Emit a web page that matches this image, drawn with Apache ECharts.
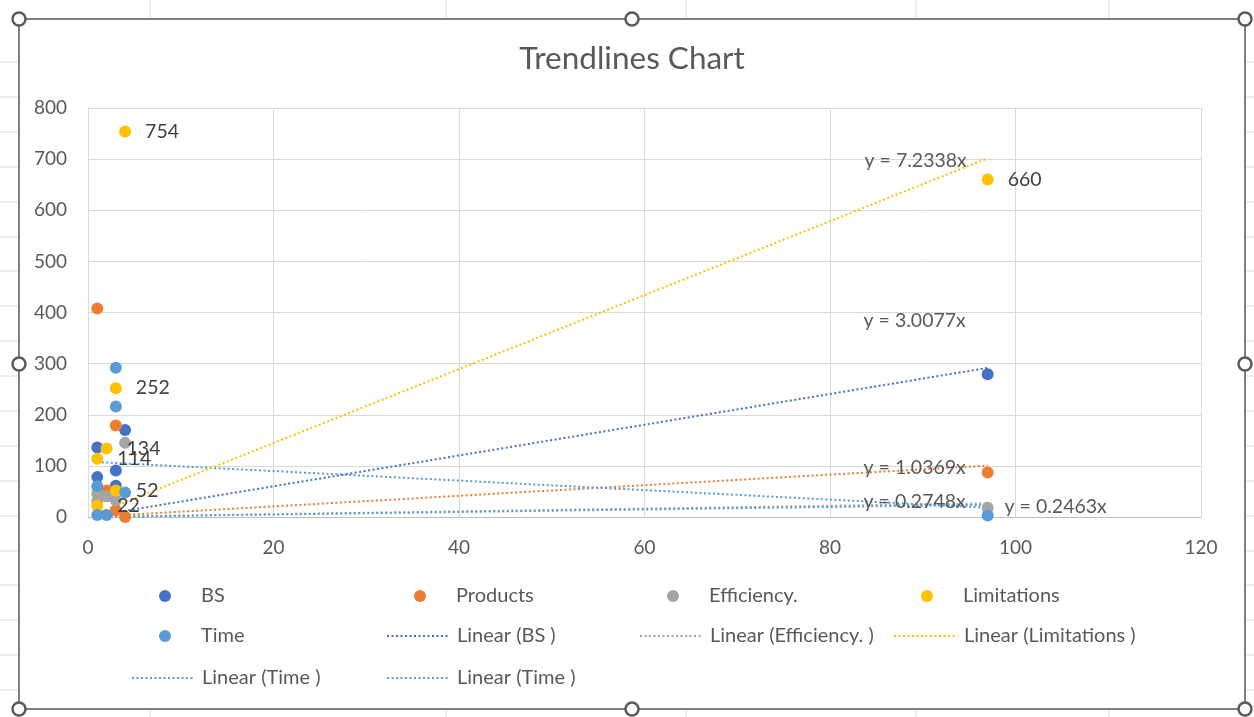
<!DOCTYPE html>
<html>
<head>
<meta charset="utf-8">
<script src="https://cdn.jsdelivr.net/npm/echarts@6/dist/echarts.min.js"></script>
<style>
  html, body { margin: 0; padding: 0; background: #fff; }
  #chart { width: 1254px; height: 717px; }
</style>
</head>
<body>
<div id="chart"></div>
<script>
// Observations: [x, y]
const bsPoints          = [[1, 136], [1, 78], [3, 91], [3, 61], [4, 170], [97, 279]];
const productsPoints    = [[1, 408], [2, 52], [3, 179], [3, 13], [4, 0], [97, 87]];
const efficiencyPoints  = [[1, 46], [1, 31], [2, 40], [3, 33], [4, 145], [97, 18]];
const limitationsPoints = [[1, 114], [1, 22], [2, 134], [3, 252], [3, 52], [4, 754], [97, 660]];
const timePoints        = [[1, 60], [1, 4], [2, 4], [3, 292], [3, 216], [4, 48], [97, 3]];

// Linear fits through the origin, y = k·x (k as printed on the chart)
const slopeBS = 3.0077;
const slopeProducts = 1.0369;
const slopeEfficiency = 0.2748;
const slopeLimitations = 7.2338;
const slopeTime = 0.2463;
// Second Time fit with free intercept: [slope, intercept]
const timeFitFree = [-0.93, 108.4];

// Axis ranges: [min, max, interval]
const xAxisRange = [0, 120, 20];
const yAxisRange = [0, 800, 100];

const FONT = 'Lato, "Open Sans", sans-serif';
const TEXT = '#595959';
const COLORS = { bs: '#4472C4', products: '#ED7D31', efficiency: '#A5A5A5', limitations: '#FFC000', time: '#5B9BD5' };

function xSpan(points) {
  const xs = points.map(p => p[0]);
  return [Math.min.apply(null, xs), Math.max.apply(null, xs)];
}

function trendSeries(name, points, slope, intercept, color, labelOffset) {
  const [x0, x1] = xSpan(points);
  const f = x => slope * x + intercept;
  const s = {
    name: name,
    type: 'line',
    data: [[x0, f(x0)], [x1, f(x1)]],
    symbol: 'none',
    silent: true,
    z: 2,
    lineStyle: { color: color, width: 2, type: [2, 2.5] },
    itemStyle: { color: color }
  };
  if (labelOffset) {
    s.markPoint = {
      symbol: 'circle',
      symbolSize: 0,
      silent: true,
      label: {
        show: true,
        formatter: 'y = ' + slope + 'x',
        offset: labelOffset,
        color: TEXT,
        fontSize: 19.5,
        fontFamily: FONT
      },
      data: [{ coord: [x1, f(x1)] }]
    };
  }
  return s;
}

function scatterSeries(name, points, color, withLabels) {
  return {
    name: name,
    type: 'scatter',
    data: points,
    symbolSize: 12,
    z: 3,
    itemStyle: { color: color, opacity: 1 },
    label: withLabels ? {
      show: true,
      position: 'right',
      distance: 14,
      formatter: p => p.value[1],
      color: '#404040',
      fontSize: 19.5,
      fontFamily: FONT
    } : { show: false }
  };
}

// Legend laid out as a 4-column grid, one component per entry
const legendCols = [131, 386, 639, 893];
const legendRows = [586, 626, 668];
const legendEntries = [
  ['BS', 0, 0, 'marker'], ['Products', 0, 1, 'marker'], ['Efficiency.', 0, 2, 'marker'], ['Limitations', 0, 3, 'marker'],
  ['Time', 1, 0, 'marker'], ['Linear (BS )', 1, 1, 'line'], ['Linear (Efficiency. )', 1, 2, 'line'], ['Linear (Limitations )', 1, 3, 'line'],
  ['Linear (Time )', 2, 0, 'line'], ['Linear (Time )', 2, 1, 'line']
];
const legends = legendEntries.map(([name, r, c, kind]) => {
  const isLine = kind === 'line';
  return {
    data: [name],
    left: legendCols[c] + (isLine ? 0 : 28),
    top: legendRows[r],
    orient: 'horizontal',
    padding: 0,
    itemWidth: 62,
    itemHeight: 12,
    selectedMode: false,
    itemStyle: isLine ? { opacity: 0 } : {},
    textStyle: { color: TEXT, fontSize: 20, fontFamily: FONT, padding: [0, 0, 0, isLine ? 3 : 0] }
  };
});

// Frame with selection handles and faint sheet cell lines around it
const frame = { l: 19, t: 19, r: 1245, b: 709 };
const sheetCols = [150, 446, 686, 916, 1109];
const sheetRows = [];
for (let y = 62; y < 705; y += 34.9) sheetRows.push(Math.round(y));
const graphics = [];
sheetCols.forEach(x => {
  graphics.push({ type: 'line', shape: { x1: x, y1: 0, x2: x, y2: frame.t }, style: { stroke: '#DADADA', lineWidth: 1 }, silent: true });
  graphics.push({ type: 'line', shape: { x1: x, y1: frame.b, x2: x, y2: 717 }, style: { stroke: '#DADADA', lineWidth: 1 }, silent: true });
});
sheetRows.forEach(y => {
  graphics.push({ type: 'line', shape: { x1: 0, y1: y, x2: frame.l, y2: y }, style: { stroke: '#DADADA', lineWidth: 1 }, silent: true });
  graphics.push({ type: 'line', shape: { x1: frame.r, y1: y, x2: 1254, y2: y }, style: { stroke: '#DADADA', lineWidth: 1 }, silent: true });
});
graphics.push({
  type: 'rect',
  shape: { x: frame.l, y: frame.t, width: frame.r - frame.l, height: frame.b - frame.t },
  style: { fill: 'none', stroke: '#7F7F7F', lineWidth: 2 },
  silent: true, z: 100
});
const midX = Math.round((frame.l + frame.r) / 2), midY = Math.round((frame.t + frame.b) / 2);
[[frame.l, frame.t], [midX, frame.t], [frame.r, frame.t],
 [frame.l, midY], [frame.r, midY],
 [frame.l, frame.b], [midX, frame.b], [frame.r, frame.b]].forEach(([cx, cy]) => {
  graphics.push({
    type: 'circle',
    shape: { cx: cx, cy: cy, r: 6.5 },
    style: { fill: '#fff', stroke: '#5A5A5A', lineWidth: 2.5 },
    silent: true, z: 101
  });
});

const option = {
  backgroundColor: '#fff',
  animation: false,
  title: {
    text: 'Trendlines Chart',
    left: 627,
    textAlign: 'center',
    top: 38,
    textStyle: { color: TEXT, fontSize: 31.5, fontWeight: 'normal', fontFamily: FONT }
  },
  grid: { left: 88, right: 53, top: 108, bottom: 200 },
  xAxis: {
    type: 'value',
    min: xAxisRange[0], max: xAxisRange[1], interval: xAxisRange[2],
    axisLine: { show: true, onZero: false, lineStyle: { color: '#BFBFBF', width: 1 } },
    axisTick: { show: false },
    splitLine: { show: true, lineStyle: { color: '#D9D9D9', width: 1 } },
    axisLabel: { color: TEXT, fontSize: 19, fontFamily: FONT, margin: 21 }
  },
  yAxis: {
    type: 'value',
    min: yAxisRange[0], max: yAxisRange[1], interval: yAxisRange[2],
    axisLine: { show: true, lineStyle: { color: '#D9D9D9', width: 1 } },
    axisTick: { show: false },
    splitLine: { show: true, lineStyle: { color: '#D9D9D9', width: 1 } },
    axisLabel: { color: TEXT, fontSize: 19, fontFamily: FONT, margin: 21 }
  },
  legend: legends,
  graphic: graphics,
  series: [
    trendSeries('Linear (Products )', productsPoints, slopeProducts, 0, COLORS.products, [-73, 2]),
    trendSeries('Linear (Efficiency. )', efficiencyPoints, slopeEfficiency, 0, COLORS.efficiency, [-73, -2]),
    trendSeries('Linear (Time )', timePoints, timeFitFree[0], timeFitFree[1], COLORS.time, null),
    trendSeries('Linear (Time )', timePoints, slopeTime, 0, COLORS.time, [68, 2]),
    trendSeries('Linear (BS )', bsPoints, slopeBS, 0, COLORS.bs, [-73, -47]),
    trendSeries('Linear (Limitations )', limitationsPoints, slopeLimitations, 0, COLORS.limitations, [-72, 2]),
    scatterSeries('BS', bsPoints, COLORS.bs, false),
    scatterSeries('Products', productsPoints, COLORS.products, false),
    scatterSeries('Efficiency.', efficiencyPoints, COLORS.efficiency, false),
    scatterSeries('Limitations', limitationsPoints, COLORS.limitations, true),
    scatterSeries('Time', timePoints, COLORS.time, false)
  ]
};

const chart = echarts.init(document.getElementById('chart'), null, { renderer: 'canvas' });
chart.setOption(option);
</script>
</body>
</html>
